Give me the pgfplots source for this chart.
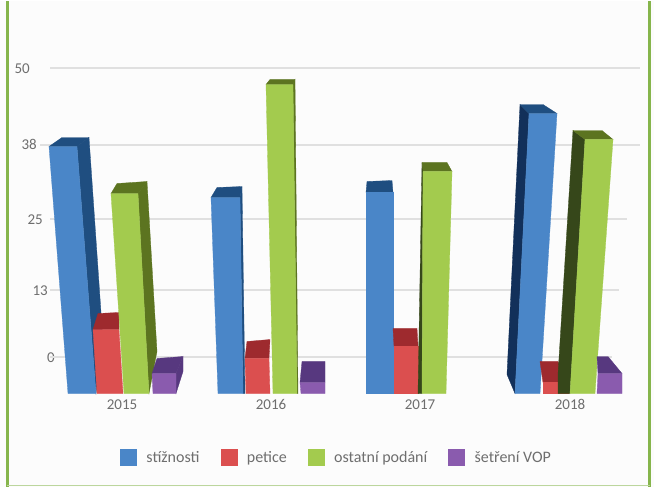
\documentclass[border=0pt]{standalone}
\usepackage{pgfplots}
\pgfplotsset{compat=1.18}
\usepackage{fontspec}
\setmainfont{Carlito}
\definecolor{frameg}{HTML}{86B54C}
\definecolor{gridc}{HTML}{E0E0E0}
\definecolor{txt}{HTML}{6E6E6E}
\definecolor{bf}{HTML}{4A86C8}\definecolor{bd}{HTML}{1F4E80}\definecolor{bx}{HTML}{12305A}
\definecolor{rf}{HTML}{DB4F4F}\definecolor{rd}{HTML}{9E2A2E}
\definecolor{gf}{HTML}{A3CB4E}\definecolor{gd}{HTML}{5C7420}\definecolor{gx}{HTML}{36471A}
\definecolor{pf}{HTML}{8A5BAE}\definecolor{pd}{HTML}{57387F}
\newcommand\face[2]{\addplot[fill=#1,draw=#1,line width=0.3pt,forget plot] coordinates {#2} -- cycle;}
\newcommand\front[2]{\addplot[fill=#1,draw=#1,line width=0.3pt] coordinates {#2} -- cycle;}
\newcommand\gline[3]{\addplot[draw=gridc,line width=2pt,forget plot] coordinates {(#1,#3) (#2,#3)};}
\begin{document}
\begin{tikzpicture}[x=1pt,y=1pt]
\fill[white!99!black] (0,0) rectangle (654,485);
\begin{axis}[
  at={(60pt,93pt)},anchor=south west,
  scale only axis,width=580pt,height=342pt,
  xmin=60,xmax=640,ymin=-6.23,ymax=52.94,
  clip=false,
  axis line style={draw=none},
  major tick length=0pt,
  xtick={122,271,420,570},
  xticklabels={2015,2016,2017,2018},
  ytick={0,11.6,23.88,36.85,50},
  yticklabels={0\rule{5pt}{0pt},13\rule{12pt}{0pt},25\rule{17pt}{0pt},38\rule{23pt}{0pt},50\rule{30pt}{0pt}},
  tick label style={font=\fontsize{15}{16}\selectfont,text=txt},
  /pgf/number format/assume math mode=true,
  xticklabel style={yshift=-2pt,text height=10pt,text depth=0pt},
  yticklabel style={inner xsep=0pt},
  legend columns=4,
  legend style={at={(axis cs:336.5,-17.3)},anchor=center,draw=none,fill=none,
    font=\fontsize{16}{17}\selectfont,text=txt,inner sep=0pt,
    /tikz/every even column/.style={column sep=19pt},
    /tikz/every odd column/.style={column sep=8pt}},
  legend cell align=left,
  legend image code/.code={\fill[#1] (0pt,-8pt) rectangle (16pt,8pt);},
]
% grid lines
\gline{50}{640}{50}
\gline{40}{640}{36.85}
\gline{50}{627}{23.88}
\gline{50}{619}{11.6}
\gline{50}{612}{0}
% 2015
\face{bd}{(77,36.5) (89,38.06) (103,2.77) (96,-6.23)}
\face{bd}{(49,36.5) (62,38.06) (89,38.06) (77,36.5)}
\front{bf}{(49,36.5) (77,36.5) (96,-6.23) (68,-6.23)}
\face{rd}{(93,4.84) (98,7.61) (119,7.79) (119,4.84)}
\front{rf}{(93,4.84) (119,4.84) (123,-6.23) (97,-6.23)}
\face{gd}{(138,28.37) (147,30.45) (157,1.04) (149,-6.23)}
\face{gd}{(111,28.37) (117,30.1) (147,30.45) (138,28.37)}
\front{gf}{(111,28.37) (138,28.37) (149,-6.23) (124,-6.23)}
\face{pd}{(176,-2.77) (183,0.17) (183,-2.42) (176,-6.23)}
\face{pd}{(152,-2.77) (157,-0.17) (183,0.17) (176,-2.77)}
\front{pf}{(152,-2.77) (176,-2.77) (176,-6.23) (153,-6.23)}
% 2016
\face{bd}{(240,27.68) (242,29.58) (245,-6.23) (243,-6.23)}
\face{bd}{(211,27.68) (217,29.41) (242,29.58) (240,27.68)}
\face{bf}{(211,27.68) (240,27.68) (243,-6.23) (218,-6.23)}
\face{rd}{(245,-0.17) (247,2.77) (270,3.11) (269,-0.17)}
\face{rf}{(245,-0.17) (269,-0.17) (270,-6.23) (246,-6.23)}
\face{gd}{(293,47.23) (295,48.1) (298,-6.23) (297,-6.23)}
\face{gd}{(266,47.23) (270,48.1) (295,48.1) (293,47.23)}
\face{gf}{(266,47.23) (293,47.23) (297,-6.23) (273,-6.23)}
\face{pd}{(300,-4.33) (302,-0.69) (325,-0.69) (325,-4.33)}
\face{pf}{(300,-4.33) (325,-4.33) (325,-6.23) (301,-6.23)}
% 2017
\face{bd}{(366,28.55) (367,30.45) (392,30.62) (393,28.55)}
\face{bf}{(366,28.55) (393,28.55) (393,-6.23) (366,-6.23)}
\face{rd}{(394,1.9) (393,5.02) (417,5.02) (418,1.9)}
\face{rf}{(394,1.9) (418,1.9) (418,-6.23) (394,-6.23)}
\face{gx}{(422,33.74) (423,32.18) (422,-6.23) (418,-6.23)}
\face{gd}{(423,32.18) (422,33.74) (447,33.74) (452,32.18)}
\face{gf}{(423,32.18) (452,32.18) (446,-6.23) (422,-6.23)}
% 2018
\face{bx}{(520,43.77) (529,42.21) (515,-6.23) (507,-2.94)}
\face{bd}{(529,42.21) (520,43.77) (543,43.77) (557,42.21)}
\face{bf}{(529,42.21) (557,42.21) (540,-6.23) (515,-6.23)}
\face{rd}{(543,-4.33) (540,-0.69) (558,-0.69) (568,-4.33)}
\face{rf}{(543,-4.33) (568,-4.33) (568,-6.23) (543,-6.23)}
\face{gx}{(573,39.27) (585,37.72) (570,-6.23) (558,-6.23) (558,-2.94)}
\face{gd}{(585,37.72) (573,39.27) (602,39.27) (613,37.72)}
\face{gf}{(585,37.72) (613,37.72) (595,-6.23) (570,-6.23)}
\face{pd}{(598,-2.77) (597,0.17) (608,0.17) (622,-2.77)}
\face{pf}{(598,-2.77) (622,-2.77) (622,-6.23) (597,-6.23)}
\legend{stížnosti,petice,ostatní podání,šetření VOP}
\end{axis}
\draw[frameg,line width=3pt] (7.3,0) -- (7.3,485);
\draw[frameg,line width=3pt] (649.5,0) -- (649.5,485);
\draw[frameg!55!white,line width=1.5pt] (7.3,0.8) -- (649.5,0.8);
\path[use as bounding box] (0,0) rectangle (654,485);
\end{tikzpicture}
\end{document}
